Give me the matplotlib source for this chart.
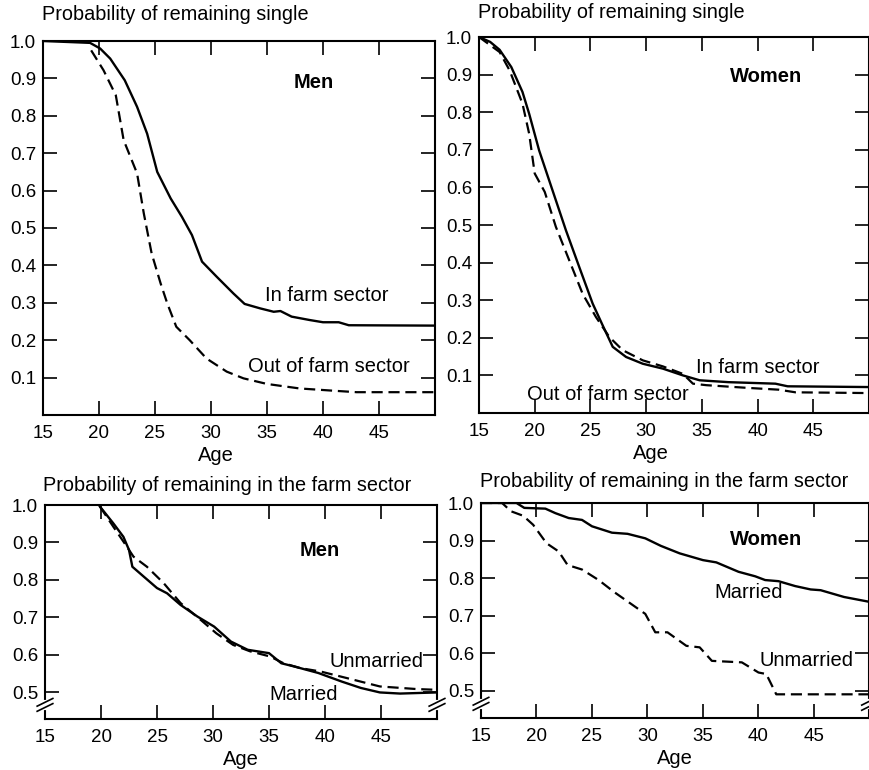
#!/usr/bin/env python3
"""
Probability of remaining single / remaining in the farm sector, men and women
"""

import matplotlib.pyplot as plt

plt.rcParams['font.family'] = ['Liberation Sans', 'DejaVu Sans']

# --- remaining single, men
men_single_farm_age = [15, 19.2, 20.1, 21.0, 22.3, 23.4, 24.3, 25.2, 26.4, 27.4, 28.3, 29.2,
                       30.5, 32.0, 33.0, 34.4, 35.6, 36.2, 37.2, 38.8, 40.0, 41.4, 42.3, 50]
men_single_farm = [1.0, 0.995, 0.98, 0.953, 0.895, 0.824, 0.752, 0.65, 0.579, 0.53, 0.481, 0.41,
                   0.37, 0.325, 0.297, 0.285, 0.276, 0.278, 0.263, 0.254, 0.248, 0.248, 0.240, 0.239]
men_single_out_age = [19.3, 20.4, 21.5, 22.2, 23.4, 24.0, 24.7, 25.5, 26.1, 26.9, 28.1, 29.6,
                      31.4, 32.9, 35.0, 37.9, 40.9, 43.0, 50]
men_single_out = [0.975, 0.922, 0.855, 0.735, 0.646, 0.539, 0.432, 0.352, 0.298, 0.236, 0.2, 0.151,
                  0.116, 0.098, 0.083, 0.071, 0.065, 0.061, 0.061]

# --- remaining single, women
women_single_farm_age = [15, 16.0, 16.85, 17.9, 18.9, 19.5, 20.4, 21.6, 22.8, 24.0, 25.2, 26.1,
                         27.0, 28.2, 29.7, 31.5, 33.3, 34.8, 37.4, 41.6, 42.7, 50]
women_single_farm = [1.0, 0.987, 0.966, 0.92, 0.854, 0.796, 0.698, 0.592, 0.486, 0.388, 0.291, 0.233,
                     0.176, 0.149, 0.131, 0.118, 0.1, 0.087, 0.082, 0.078, 0.071, 0.069]
women_single_out_age = [15, 16.85, 17.75, 18.9, 19.5, 20.0, 20.9, 21.9, 23.1, 24.3, 25.5, 26.7,
                        27.9, 29.7, 31.5, 33.3, 34.2, 35.4, 39.0, 41.9, 43.4, 50]
women_single_out = [1.0, 0.96, 0.911, 0.823, 0.743, 0.637, 0.588, 0.495, 0.406, 0.317, 0.255, 0.202,
                    0.167, 0.14, 0.124, 0.104, 0.078, 0.074, 0.067, 0.062, 0.055, 0.053]

# --- remaining in farm sector, men
men_farm_married_age = [19.9, 21.1, 22.0, 22.5, 22.8, 23.8, 25.0, 25.9, 27.1, 28.6, 30.1, 31.6,
                        33.1, 35.0, 36.1, 37.3, 39.4, 41.5, 43.2, 44.9, 46.7, 50]
men_farm_married = [0.996, 0.951, 0.915, 0.88, 0.835, 0.809, 0.778, 0.764, 0.733, 0.702, 0.675, 0.635,
                    0.613, 0.604, 0.577, 0.568, 0.551, 0.528, 0.511, 0.499, 0.496, 0.499]
men_farm_unmarried_age = [19.9, 21.1, 22.3, 22.9, 24.1, 25.6, 27.1, 28.9, 30.3, 31.8, 33.3, 35.1,
                          36.3, 37.8, 39.6, 42.0, 44.9, 48.2, 50]
men_farm_unmarried = [0.996, 0.942, 0.889, 0.862, 0.835, 0.791, 0.738, 0.693, 0.657, 0.626, 0.609, 0.595,
                      0.577, 0.564, 0.555, 0.537, 0.515, 0.508, 0.506]

# --- remaining in farm sector, women
women_farm_married_age = [15, 18.2, 18.9, 20.8, 21.7, 22.9, 24.1, 25.0, 26.8, 28.2, 29.8, 31.2,
                          32.9, 35.0, 36.2, 38.2, 39.7, 40.6, 41.8, 43.3, 44.7, 45.6, 47.7, 50]
women_farm_married = [1.0, 1.0, 0.987, 0.985, 0.973, 0.96, 0.955, 0.938, 0.921, 0.918, 0.906, 0.886,
                      0.866, 0.848, 0.842, 0.817, 0.805, 0.795, 0.792, 0.779, 0.77, 0.768, 0.75, 0.737]
women_farm_unmarried_age = [15, 16.9, 17.7, 18.8, 19.7, 20.9, 22.0, 22.8, 24.1, 25.6, 27.0, 28.5,
                            29.8, 30.7, 31.8, 33.5, 34.7, 35.8, 38.5, 40.0, 40.7, 41.6, 50]
women_farm_unmarried = [1.0, 1.0, 0.978, 0.966, 0.942, 0.893, 0.871, 0.835, 0.823, 0.795, 0.763, 0.732,
                        0.705, 0.656, 0.656, 0.62, 0.616, 0.58, 0.576, 0.549, 0.545, 0.491, 0.491]

W, H = 870, 770
fig = plt.figure(figsize=(W / 100, H / 100), dpi=100)


def make_ax(x0, y0, x1, y1):
    # pixel box -> figure fraction
    return fig.add_axes([x0 / W, 1 - y1 / H, (x1 - x0) / W, (y1 - y0) / H])


ax_tl = make_ax(43, 41, 435, 415)
ax_tr = make_ax(479, 37, 869, 413)
ax_bl = make_ax(45, 505, 437, 719)
ax_br = make_ax(481, 503, 869.5, 718)

solid = dict(color='black', lw=1.7, solid_joinstyle='round')
dashed = dict(color='black', lw=1.6, linestyle=(0, (5, 2.6)))

ax_tl.plot(men_single_farm_age, men_single_farm, **solid)
ax_tl.plot(men_single_out_age, men_single_out, **dashed)
ax_tr.plot(women_single_farm_age, women_single_farm, **solid)
ax_tr.plot(women_single_out_age, women_single_out, **dashed)
ax_bl.plot(men_farm_married_age, men_farm_married, **solid)
ax_bl.plot(men_farm_unmarried_age, men_farm_unmarried, **dashed)
ax_br.plot(women_farm_married_age, women_farm_married, **solid)
ax_br.plot(women_farm_unmarried_age, women_farm_unmarried, **dashed)

LBL = 14.5

for ax in (ax_tl, ax_tr):
    ax.set_ylim(0, 1.0)
    ax.set_yticks([0.1, 0.2, 0.3, 0.4, 0.5, 0.6, 0.7, 0.8, 0.9, 1.0])
    ax.set_xlabel('Age', fontsize=LBL, labelpad=3, x=0.44)

for ax in (ax_bl, ax_br):
    ax.set_ylim(0.428, 1.0)
    ax.set_yticks([0.5, 0.6, 0.7, 0.8, 0.9, 1.0])
    ax.set_xlabel('Age', fontsize=LBL, labelpad=3)
    # axis break marks on both vertical spines
    for xs in (0, 1):
        ax.plot([xs, xs], [0.052, 0.080], color='white', lw=3, transform=ax.transAxes,
                clip_on=False, zorder=4)
        for yc in (0.054, 0.078):
            ax.plot([xs - 0.02, xs + 0.02], [yc - 0.018, yc + 0.018], color='black', lw=1.2,
                    transform=ax.transAxes, clip_on=False, zorder=5)

for ax in (ax_tl, ax_tr, ax_bl, ax_br):
    ax.set_xlim(15, 50)
    ax.set_xticks([15, 20, 25, 30, 35, 40, 45])
    ax.set_yticklabels([f'{v:.1f}' for v in ax.get_yticks()])
    ax.tick_params(direction='in', length=10, width=1.2, labelsize=13.5, pad=5,
                   top=True, right=True)
    ax.tick_params(axis='x', pad=7)
    for s in ax.spines.values():
        s.set_linewidth(1.5)

# panel labels
ax_tl.text(39.2, 0.89, 'Men', fontsize=LBL, fontweight='bold', ha='center', va='center')
ax_tl.text(34.8, 0.32, 'In farm sector', fontsize=LBL, ha='left', va='center')
ax_tl.text(33.3, 0.13, 'Out of farm sector', fontsize=LBL, ha='left', va='center')

ax_tr.text(40.8, 0.895, 'Women', fontsize=LBL, fontweight='bold', ha='center', va='center')
ax_tr.text(34.5, 0.122, 'In farm sector', fontsize=LBL, ha='left', va='center')
ax_tr.text(19.3, 0.05, 'Out of farm sector', fontsize=LBL, ha='left', va='center')

ax_bl.text(39.5, 0.878, 'Men', fontsize=LBL, fontweight='bold', ha='center', va='center')
ax_bl.text(40.4, 0.582, 'Unmarried', fontsize=LBL, ha='left', va='center')
ax_bl.text(35.0, 0.493, 'Married', fontsize=LBL, ha='left', va='center')

ax_br.text(40.7, 0.904, 'Women', fontsize=LBL, fontweight='bold', ha='center', va='center')
ax_br.text(36.0, 0.762, 'Married', fontsize=LBL, ha='left', va='center')
ax_br.text(40.1, 0.58, 'Unmarried', fontsize=LBL, ha='left', va='center')

# panel titles
fig.text(42 / W, 1 - 15 / H, 'Probability of remaining single', fontsize=14.3, va='center')
fig.text(478 / W, 1 - 13 / H, 'Probability of remaining single', fontsize=14.3, va='center')
fig.text(43 / W, 1 - 485 / H, 'Probability of remaining in the farm sector', fontsize=14.3, va='center')
fig.text(480 / W, 1 - 481 / H, 'Probability of remaining in the farm sector', fontsize=14.3, va='center')

plt.savefig('out.png', dpi=100)
